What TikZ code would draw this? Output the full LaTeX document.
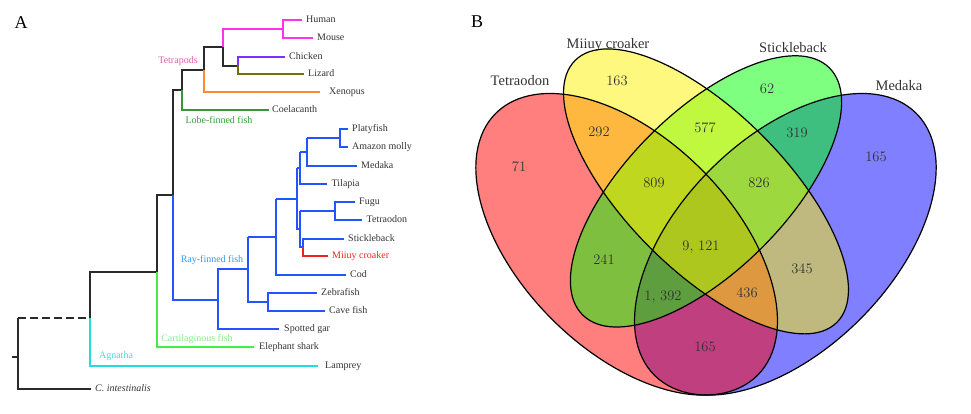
\documentclass[tikz,border=0pt]{standalone}
\usepackage{fontspec}
\newfontfamily\tnr{Liberation Serif}
\definecolor{txt}{HTML}{333333}
\definecolor{blk}{HTML}{2A2A2A}
\definecolor{mag}{HTML}{FF33EE}
\definecolor{purp}{HTML}{7733FF}
\definecolor{oliv}{HTML}{707010}
\definecolor{orng}{HTML}{FF8833}
\definecolor{dgrn}{HTML}{33993A}
\definecolor{bluL}{HTML}{2255FF}
\definecolor{redL}{HTML}{EE2222}
\definecolor{lgrn}{HTML}{44EE44}
\definecolor{cyn}{HTML}{22DDDD}
\definecolor{labTet}{HTML}{E060B0}
\definecolor{labLobe}{HTML}{33A033}
\definecolor{labRay}{HTML}{3399EE}
\definecolor{labCart}{HTML}{88EE88}
\definecolor{labAgn}{HTML}{44DDDD}
\begin{document}
\begin{tikzpicture}[x=1pt,y=-1pt,
  br/.style={line width=1.4pt},
  leaf/.style={anchor=west, inner xsep=4.5pt, inner ysep=0pt, text height=6.8pt, text depth=2.2pt,
    font=\tnr\fontsize{10}{12}\selectfont, text=txt},
  clade/.style={font=\tnr\fontsize{10}{12}\selectfont, inner sep=0pt},
  num/.style={font=\fontsize{14.5}{17}\selectfont, text=txt, inner sep=0pt},
  setlab/.style={font=\tnr\fontsize{14.5}{17}\selectfont, text=txt, inner sep=0pt},
  panel/.style={font=\tnr\fontsize{18}{20}\selectfont, text=black, inner sep=0pt},
  vfill/.style={fill opacity=0.5},
  vline/.style={draw=black, line width=1.2pt},
]
\useasboundingbox (0,0) rectangle (971,414);

% ---------------- Panel A: tree ----------------
\node[panel] (pA) at (21,23) {A};

% internal node coordinates
\coordinate (stub) at (12,357);
\coordinate (rt) at (18,357);
\coordinate (rtU) at (18,318);
\coordinate (rtD) at (18,389);
\coordinate (vert) at (90,318);   \coordinate (vertU) at (90,272);  \coordinate (vertD) at (90,366);
\coordinate (gnath) at (157,272); \coordinate (gnathU) at (157,195); \coordinate (gnathD) at (157,347);
\coordinate (oste) at (173,195);  \coordinate (osteU) at (173,90);  \coordinate (osteD) at (173,300);
\coordinate (sarc) at (182,90);   \coordinate (sarcU) at (182,70);  \coordinate (sarcD) at (182,110);
\coordinate (tetr) at (204,70);   \coordinate (tetrU) at (204,47);  \coordinate (tetrD) at (204,92);
\coordinate (amn) at (223,47);    \coordinate (amnU) at (223,29);   \coordinate (amnD) at (223,66);
\coordinate (mam) at (283,29);    \coordinate (mamU) at (283,20);   \coordinate (mamD) at (283,38);
\coordinate (sau) at (238,66);    \coordinate (sauU) at (238,57);   \coordinate (sauD) at (238,74);
\coordinate (actin) at (218,300); \coordinate (actinU) at (218,269); \coordinate (actinD) at (218,329);
\coordinate (tele) at (248,269);  \coordinate (teleU) at (248,237); \coordinate (teleD) at (248,302);
\coordinate (cyp) at (268,302);   \coordinate (cypU) at (268,293);  \coordinate (cypD) at (268,311);
\coordinate (eut) at (276,237);   \coordinate (eutU) at (276,199);  \coordinate (eutD) at (276,275);
\coordinate (perc) at (297,199);  \coordinate (percU) at (297,168); \coordinate (percD) at (297,229);
\coordinate (ovl) at (300,168);   \coordinate (ovlU) at (300,152);  \coordinate (ovlD) at (300,184);
\coordinate (cyo) at (307,152);   \coordinate (cyoU) at (307,138);  \coordinate (cyoD) at (307,166);
\coordinate (poe) at (340,138);   \coordinate (poeU) at (340,129);  \coordinate (poeD) at (340,147);
\coordinate (eup) at (300,229);   \coordinate (eupU) at (300,211);  \coordinate (eupD) at (300,247);
\coordinate (tet2) at (335,211);  \coordinate (tet2U) at (335,202); \coordinate (tet2D) at (335,220);
\coordinate (sm) at (303,247);    \coordinate (smU) at (303,239);   \coordinate (smD) at (303,256);

% leaves
\node[leaf] (human) at (301.5,20) {Human};
\node[leaf] (mouse) at (312.5,38) {Mouse};
\node[leaf] (chicken) at (284.5,57) {Chicken};
\node[leaf] (lizard) at (303.5,74) {Lizard};
\node[leaf, inner xsep=9pt] (xenopus) at (320,92) {Xenopus};
\node[leaf, inner xsep=3.5pt] (coel) at (268.5,110) {Coelacanth};
\node[leaf] (platy) at (347.5,129) {Platyfish};
\node[leaf] (molly) at (347.5,147) {Amazon molly};
\node[leaf] (medaka) at (356.5,166) {Medaka};
\node[leaf] (tilapia) at (327,184) {Tilapia};
\node[leaf] (fugu) at (354.5,202) {Fugu};
\node[leaf] (tetraodon) at (362,220) {Tetraodon};
\node[leaf] (stickle) at (343.5,239) {Stickleback};
\node[leaf, text=redL] (miiuy) at (327.5,256) {Miiuy croaker};
\node[leaf] (cod) at (345.5,275) {Cod};
\node[leaf] (zebra) at (316.5,293) {Zebrafish};
\node[leaf] (cave) at (324.5,311) {Cave fish};
\node[leaf, inner xsep=5.5pt] (gar) at (278.5,329) {Spotted gar};
\node[leaf, inner xsep=5.5pt] (shark) at (253.5,347) {Elephant shark};
\node[leaf, inner xsep=7pt] (lamprey) at (318,366) {Lamprey};
\node[leaf] (cint) at (90.5,389) {\itshape C. intestinalis};

% clade labels
\node[clade, text=labTet] (lTet) at (178,61) {Tetrapods};
\node[clade, text=labLobe] (lLobe) at (219,120) {Lobe-finned fish};
\node[clade, text=labRay] (lRay) at (212,260) {Ray-finned fish};
\node[clade, text=labCart] (lCart) at (197,339) {Cartilaginous fish};
\node[clade, text=labAgn] (lAgn) at (116,356) {Agnatha};

% black backbone
\draw[br, blk] (stub) -- (rt);
\draw[br, blk] (rtU) -- (rtD) -- (cint.west);
\draw[br, blk, dash pattern=on 8pt off 4pt] (rtU) -- (vert);
\draw[br, blk] (vert) -- (vertU) -- (gnath) -- (gnathU) -- (oste) -- (osteU) -- (sarc) -- (sarcU)
  -- (tetr) -- (tetrU) -- (amn) -- (amnD) -- (sau);
% tetrapods
\draw[br, mag] (amn) -- (amnU) -- (mam);
\draw[br, mag] (human.west) -- (mamU) -- (mamD) -- (mouse.west);
\draw[br, purp] (sau) -- (sauU) -- (chicken.west);
\draw[br, oliv] (sau) -- (sauD) -- (lizard.west);
\draw[br, orng] (tetr) -- (tetrD) -- (xenopus.west);
\draw[br, dgrn] (sarc) -- (sarcD) -- (coel.west);
% agnatha and cartilaginous
\draw[br, cyn] (vert) -- (vertD) -- (lamprey.west);
\draw[br, lgrn] (gnath) -- (gnathD) -- (shark.west);
% ray-finned
\draw[br, bluL] (oste) -- (osteD) -- (actin);
\draw[br, bluL] (gar.west) -- (actinD) -- (actinU) -- (tele);
\draw[br, bluL] (teleU) -- (teleD) -- (cyp);
\draw[br, bluL] (zebra.west) -- (cypU) -- (cypD) -- (cave.west);
\draw[br, bluL] (teleU) -- (eut);
\draw[br, bluL] (eutU) -- (eutD) -- (cod.west);
\draw[br, bluL] (eutU) -- (perc);
\draw[br, bluL] (percU) -- (percD) -- (eup);
\draw[br, bluL] (percU) -- (ovl);
\draw[br, bluL] (ovlU) -- (ovlD) -- (tilapia.west);
\draw[br, bluL] (ovlU) -- (cyo);
\draw[br, bluL] (cyoU) -- (cyoD) -- (medaka.west);
\draw[br, bluL] (cyoU) -- (poe);
\draw[br, bluL] (platy.west) -- (poeU) -- (poeD) -- (molly.west);
\draw[br, bluL] (eupU) -- (eupD) -- (sm);
\draw[br, bluL] (eupU) -- (tet2);
\draw[br, bluL] (fugu.west) -- (tet2U) -- (tet2D) -- (tetraodon.west);
\draw[br, bluL] (sm) -- (smU) -- (stickle.west);
\draw[br, redL] (sm) -- (smD) -- (miiuy.west);

% ---------------- Panel B: Venn ----------------
\node[panel] (pB) at (477,22) {B};
\coordinate (cR) at (626.65,244.3);
\coordinate (cB) at (785.35,244.3);
\coordinate (cI) at (706,191.4);

\fill[blue, vfill, rotate around={45:(cB)}] (cB) ellipse [x radius=185.15pt, y radius=105.8pt];
\fill[red, vfill, rotate around={135:(cR)}] (cR) ellipse [x radius=185.15pt, y radius=105.8pt];
\fill[green, vfill, rotate around={45:(cI)}] (cI) ellipse [x radius=174.57pt, y radius=79.35pt];
\fill[yellow, vfill, rotate around={135:(cI)}] (cI) ellipse [x radius=185.15pt, y radius=79.35pt];

\draw[vline, rotate around={45:(cB)}] (cB) ellipse [x radius=185.15pt, y radius=105.8pt];
\draw[vline, rotate around={135:(cR)}] (cR) ellipse [x radius=185.15pt, y radius=105.8pt];
\draw[vline, rotate around={45:(cI)}] (cI) ellipse [x radius=174.57pt, y radius=79.35pt];
\draw[vline, rotate around={135:(cI)}] (cI) ellipse [x radius=185.15pt, y radius=79.35pt];

\node[setlab] (sTet) at (520,81) {Tetraodon};
\node[setlab] (sMii) at (608,45) {Miiuy croaker};
\node[setlab] (sSti) at (793,48) {Stickleback};
\node[setlab] (sMed) at (899,86) {Medaka};

\node[num] (n163) at (617,81) {163};
\node[num] (n292) at (599,132) {292};
\node[num] (n577) at (705,128) {577};
\node[num] (n62) at (767,89) {62};
\node[num] (n319) at (797,133) {319};
\node[num] (n71) at (519,167) {71};
\node[num] (n809) at (654,183) {809};
\node[num] (n826) at (759,183) {826};
\node[num] (n165a) at (876,157) {165};
\node[num] (n9121) at (701,247) {9, 121};
\node[num] (n241) at (604,260) {241};
\node[num] (n345) at (802,269) {345};
\node[num] (n1392) at (663,297) {1, 392};
\node[num] (n436) at (747,293) {436};
\node[num] (n165b) at (705,347) {165};
\end{tikzpicture}
\end{document}
